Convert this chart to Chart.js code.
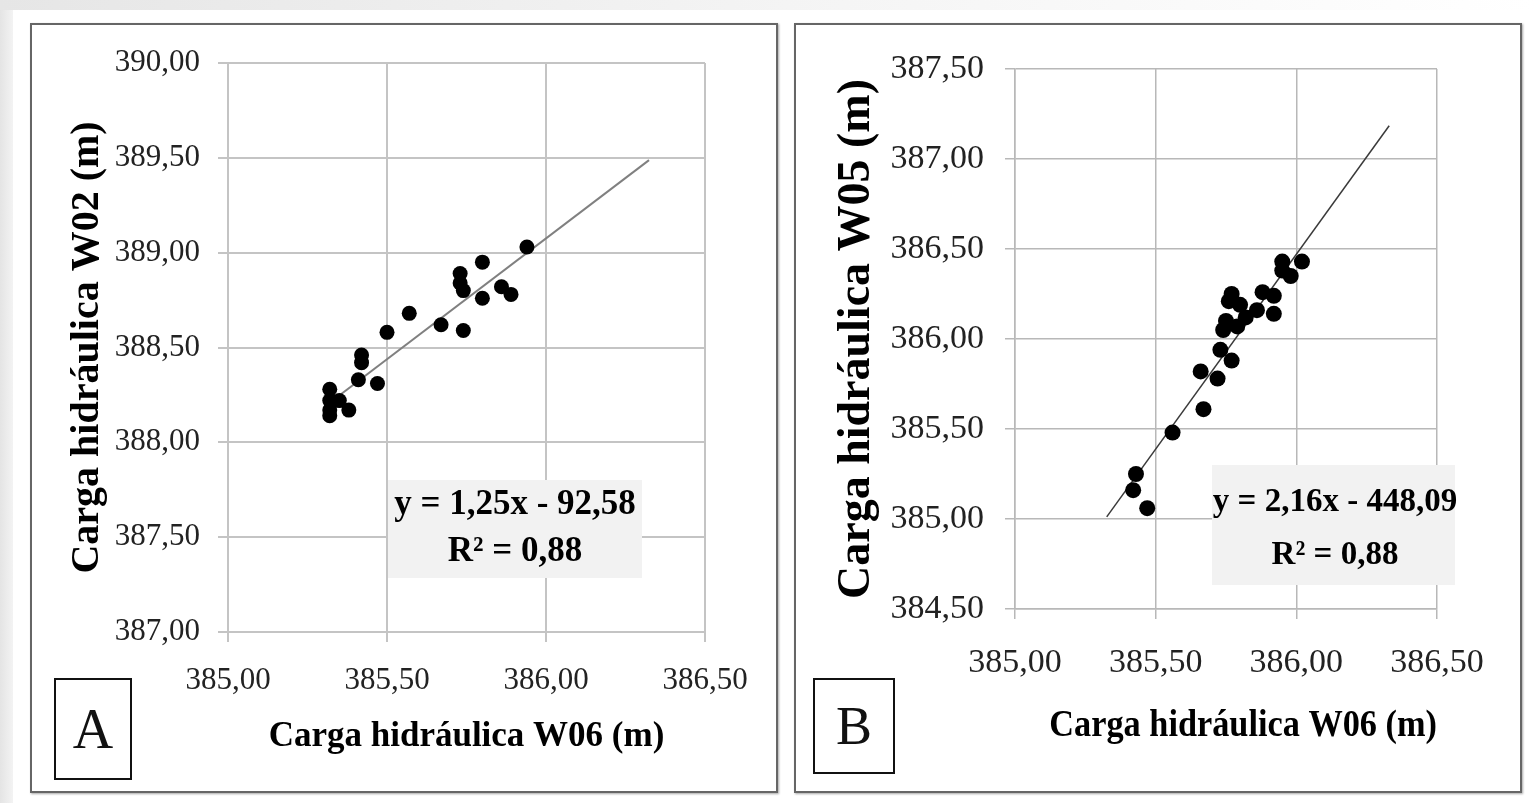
<!DOCTYPE html>
<html>
<head>
<meta charset="utf-8">
<title>Carga hidráulica W06 x W02 / W05</title>
<script src="https://cdn.jsdelivr.net/npm/chart.js@4.4.1/dist/chart.umd.min.js"></script>
<style>
  html, body { margin: 0; padding: 0; }
  body { width: 1534px; height: 803px; position: relative; overflow: hidden; background: #fff; font-family: "Liberation Serif", serif; }
  .edge-left { position: absolute; left: 0; top: 0; width: 13px; height: 803px; background: linear-gradient(to right, #e4e4e4, #f3f3f3); }
  .edge-top { position: absolute; left: 0; top: 0; width: 1534px; height: 10px; background: linear-gradient(to right, #e6e6e6, #f5f5f5 55%, #ffffff); }
  .panel { position: absolute; border: 2px solid #666; box-shadow: 1px 1px 2px rgba(0,0,0,0.35); background: #fff; }
  .panel canvas { display: block; }
  .tag { position: absolute; border: 2px solid #111; background: #fff; display: flex; align-items: center; justify-content: center; font-family: "Liberation Serif", serif; color: #111; }
</style>
</head>
<body>
<div class="edge-left"></div>
<div class="edge-top"></div>
<div class="panel" style="left:30px; top:23px; width:744px; height:766px;"><canvas id="chartA"></canvas></div>
<div class="panel" style="left:794px; top:23px; width:724px; height:766px;"><canvas id="chartB"></canvas></div>
<div class="tag" style="left:54px; top:678px; width:74px; height:98px; font-size:56px;">A</div>
<div class="tag" style="left:813px; top:678px; width:78px; height:92px; font-size:54px;">B</div>

<script>
// Axis ticks (m)
const xTickValues  = [385.0, 385.5, 386.0, 386.5];
const yTickValuesA = [387.0, 387.5, 388.0, 388.5, 389.0, 389.5, 390.0];
const yTickValuesB = [384.5, 385.0, 385.5, 386.0, 386.5, 387.0, 387.5];

// Panel A: hydraulic head W06 vs W02 (m)
const headW06_A = [385.32, 385.32, 385.32, 385.32, 385.35, 385.38, 385.41, 385.42, 385.42, 385.47, 385.50,
                   385.57, 385.67, 385.74, 385.73, 385.73, 385.74, 385.80, 385.80, 385.86, 385.89, 385.94];
const headW02   = [388.28, 388.22, 388.17, 388.14, 388.22, 388.17, 388.33, 388.46, 388.42, 388.31, 388.58,
                   388.68, 388.62, 388.59, 388.89, 388.84, 388.80, 388.95, 388.76, 388.82, 388.78, 389.03];
const trendA_x  = [385.323, 386.324];
const trendA_y  = [388.213, 389.488];
const equationA = ['y = 1,25x - 92,58', 'R² = 0,88'];

// Panel B: hydraulic head W06 vs W05 (m)
const headW06_B = [385.42, 385.43, 385.47, 385.56, 385.67, 385.66, 385.72, 385.73, 385.77, 385.75, 385.74, 385.79,
                   385.82, 385.77, 385.76, 385.80, 385.86, 385.88, 385.92, 385.92, 385.95, 385.95, 385.98, 386.02];
const headW05   = [385.16, 385.25, 385.06, 385.48, 385.61, 385.82, 385.78, 385.94, 385.88, 386.10, 386.05, 386.07,
                   386.12, 386.25, 386.21, 386.19, 386.16, 386.26, 386.24, 386.14, 386.43, 386.38, 386.35, 386.43];
const trendB_x  = [385.326, 386.330];
const trendB_y  = [385.012, 387.185];
const equationB = ['y = 2,16x - 448,09', 'R² = 0,88'];

const FONT = '"Liberation Serif", "Times New Roman", serif';
const fmt = v => Number(v).toFixed(2).replace('.', ',');
const pairs = (xs, ys) => xs.map((x, i) => ({ x: x, y: ys[i] }));

// Grey equation label drawn over the grid, under the markers
function equationLabel(id, box) {
  return {
    id: id,
    beforeDatasetsDraw(chart) {
      const ctx = chart.ctx;
      ctx.save();
      ctx.fillStyle = '#f2f2f2';
      ctx.fillRect(box.left, box.top, box.width, box.height);
      ctx.fillStyle = '#000';
      ctx.font = 'bold ' + box.size + 'px ' + FONT;
      ctx.textAlign = 'center';
      ctx.textBaseline = 'middle';
      box.lines.forEach((t, i) => ctx.fillText(t, box.cx, box.lineY[i]));
      ctx.restore();
    }
  };
}

function buildChart(id, s) {
  const fixedTicks = vals => scale => { scale.ticks = vals.map(v => ({ value: v })); };
  return new Chart(document.getElementById(id), {
    type: 'scatter',
    data: {
      datasets: [
        { label: 'medições', data: pairs(s.xs, s.ys), backgroundColor: '#000', borderWidth: 0,
          pointRadius: s.r, pointHoverRadius: s.r, order: 0 },
        { label: 'linear', data: pairs(s.tx, s.ty), showLine: true, pointRadius: 0, fill: false,
          borderColor: s.lineColor, borderWidth: s.lineWidth, order: 1 }
      ]
    },
    options: {
      responsive: true,
      maintainAspectRatio: false,
      animation: false,
      events: [],
      layout: { padding: s.padding },
      plugins: { legend: { display: false }, tooltip: { enabled: false } },
      scales: {
        x: {
          type: 'linear', min: xTickValues[0], max: xTickValues[xTickValues.length - 1],
          afterBuildTicks: fixedTicks(xTickValues),
          afterFit: sc => { sc.height = s.xHeight; },
          grid: { color: s.grid, lineWidth: s.gridW, tickLength: 10 },
          border: { color: s.grid, width: s.gridW },
          ticks: { callback: v => fmt(v), font: { family: FONT, size: s.tickSize }, color: '#222',
                   padding: s.xTickPad, maxRotation: 0, autoSkip: false },
          title: { display: true, text: s.xTitle, color: '#000',
                   font: { family: FONT, size: s.xTitleSize, weight: 'bold' },
                   padding: { top: 0, bottom: s.xTitlePad } }
        },
        y: {
          type: 'linear', min: s.yTicks[0], max: s.yTicks[s.yTicks.length - 1],
          afterBuildTicks: fixedTicks(s.yTicks),
          afterFit: sc => { sc.width = s.yWidth; },
          grid: { color: s.grid, lineWidth: s.gridW, tickLength: 10 },
          border: { color: s.grid, width: s.gridW },
          ticks: { callback: v => fmt(v), font: { family: FONT, size: s.tickSize }, color: '#222',
                   padding: s.yTickPad, autoSkip: false },
          title: { display: true, text: s.yTitle, color: '#000',
                   font: { family: FONT, size: s.yTitleSize, weight: 'bold' },
                   padding: { top: s.yTitlePad, bottom: 0 } }
        }
      }
    },
    plugins: [equationLabel(id + 'Eq', s.eq)]
  });
}

buildChart('chartA', {
  xs: headW06_A, ys: headW02, tx: trendA_x, ty: trendA_y, yTicks: yTickValuesA,
  r: 7.5, lineColor: '#808080', lineWidth: 2, grid: '#c4c4c4', gridW: 2,
  padding: { left: 20, top: 38, right: 71, bottom: 20 },
  xHeight: 139, yWidth: 176, tickSize: 31, xTickPad: 20, yTickPad: 18,
  xTitle: 'Carga hidráulica W06 (m)', xTitleSize: 35, xTitlePad: 13,
  yTitle: 'Carga hidráulica W02 (m)', yTitleSize: 40, yTitlePad: 12,
  eq: { left: 356, top: 455, width: 254, height: 98, cx: 483, lineY: [480, 527], size: 35, lines: equationA }
});

buildChart('chartB', {
  xs: headW06_B, ys: headW05, tx: trendB_x, ty: trendB_y, yTicks: yTickValuesB,
  r: 8, lineColor: '#3a3a3a', lineWidth: 1.5, grid: '#b8b8b8', gridW: 1.5,
  padding: { left: 20, top: 44, right: 83, bottom: 20 },
  xHeight: 162, yWidth: 199, tickSize: 34, xTickPad: 24, yTickPad: 21,
  xTitle: '\u2003Carga hidráulica W06 (m)', xTitleSize: 38, xTitlePad: 22,
  yTitle: 'Carga hidráulica W05 (m)', yTitleSize: 46, yTitlePad: 14,
  eq: { left: 416, top: 440, width: 243, height: 120, cx: 539, lineY: [477, 530], size: 33, lines: equationB }
});
</script>
</body>
</html>
